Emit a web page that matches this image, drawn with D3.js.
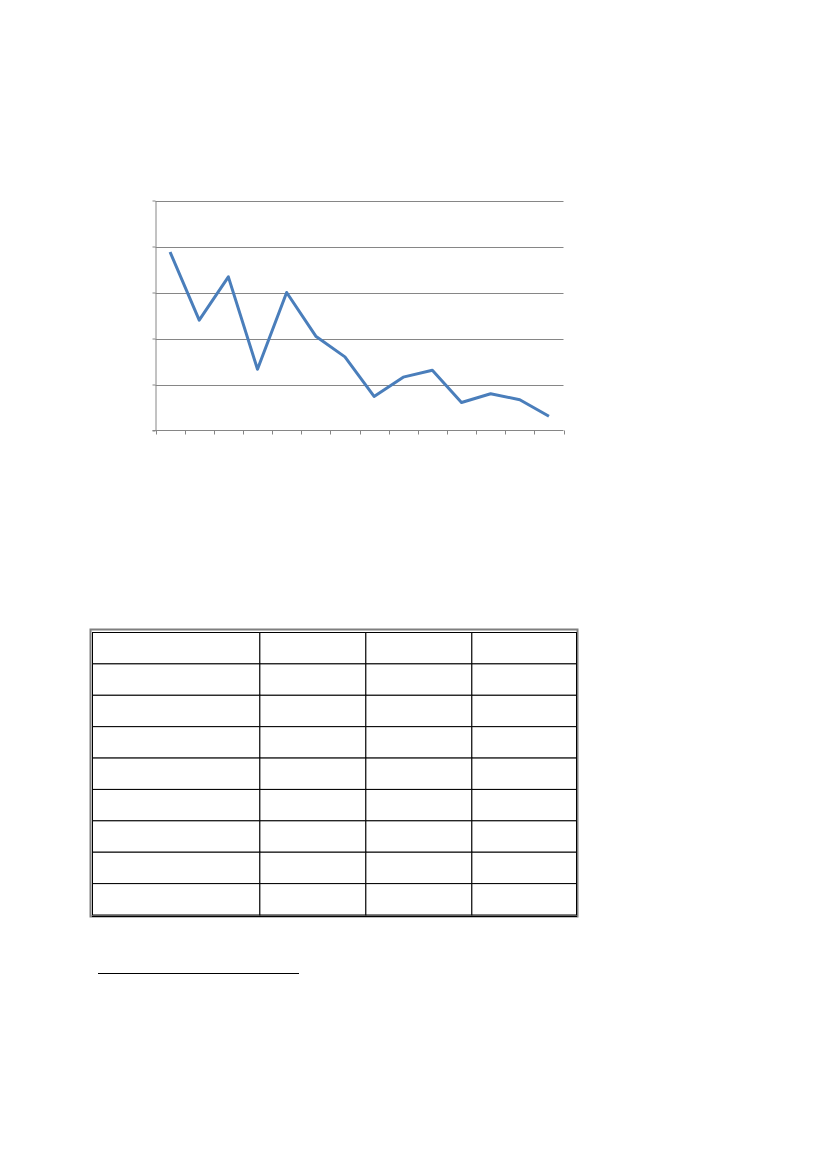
<!DOCTYPE html>
<html>
<head>
<meta charset="utf-8">
<script src="https://cdn.jsdelivr.net/npm/d3@7"></script>
<style>
  body { margin: 0; background: #fff; }
  svg { display: block; }
</style>
</head>
<body>
<script>
// series (no labels are printed in the chart)
const categories = ["1", "2", "3", "4", "5", "6", "7", "8", "9", "10", "11", "12", "13", "14"];
const values = [3.88, 2.40, 3.34, 1.33, 3.00, 2.05, 1.60, 0.74, 1.16, 1.31, 0.61, 0.80, 0.67, 0.31];
const yTicks = [0, 1, 2, 3, 4, 5];

// empty table below the chart: 9 rows x 4 columns
const tableRows = ["", "", "", "", "", "", "", "", ""];
const tableCols = ["", "", "", ""];

const W = 827, H = 1169;

const svg = d3.select("body").append("svg")
    .attr("width", W)
    .attr("height", H);

// ---- line chart ----
const plot = { left: 155.5, right: 563.5, top: 200.5, bottom: 430.5 };
const grey = "#868686";

const x = d3.scaleBand()
    .domain(categories)
    .range([plot.left, plot.right])
    .padding(0);

const y = d3.scaleLinear()
    .domain([0, 5])
    .range([plot.bottom, plot.top]);

const chart = svg.append("g").attr("class", "chart");

// gridlines
chart.append("g")
    .selectAll("line")
    .data(yTicks.filter(d => d > 0))
  .enter().append("line")
    .attr("x1", plot.left)
    .attr("x2", plot.right)
    .attr("y1", d => Math.round(y(d)) + 0.5)
    .attr("y2", d => Math.round(y(d)) + 0.5)
    .attr("stroke", grey)
    .attr("stroke-width", 1);

// y axis with small outside ticks, no labels
chart.append("g")
    .attr("transform", "translate(" + plot.left + ",0)")
    .call(d3.axisLeft(y).tickValues(yTicks).tickSize(3).tickSizeOuter(0).tickFormat(""))
    .call(g => g.selectAll("line, path").attr("stroke", grey));

// x axis: ticks on category boundaries
const boundaries = categories.map(c => x(c)).concat([plot.right]);
const xa = chart.append("g");
xa.append("line")
    .attr("x1", plot.left - 3)
    .attr("x2", plot.right)
    .attr("y1", plot.bottom)
    .attr("y2", plot.bottom)
    .attr("stroke", grey);
xa.selectAll(".xt")
    .data(boundaries)
  .enter().append("line")
    .attr("class", "xt")
    .attr("x1", d => Math.round(d) + 0.5)
    .attr("x2", d => Math.round(d) + 0.5)
    .attr("y1", plot.bottom)
    .attr("y2", plot.bottom + 4)
    .attr("stroke", grey);

// data line
chart.append("path")
    .datum(values)
    .attr("fill", "none")
    .attr("stroke", "#4a7ebb")
    .attr("stroke-width", 3)
    .attr("stroke-linejoin", "round")
    .attr("stroke-linecap", "butt")
    .attr("d", d3.line()
        .x((d, i) => x(categories[i]) + x.bandwidth() / 2)
        .y(d => y(d)));

// ---- table ----
const table = { left: 92, right: 576, top: 632, bottom: 914.5 };
const colEdges = [0, 0.3458, 0.5648, 0.7838, 1];   // share of table width

const tx = d3.scaleLinear()
    .domain([0, 1])
    .range([table.left, table.right]);

const ty = d3.scaleBand()
    .domain(d3.range(tableRows.length))
    .range([table.top, table.bottom]);

const tg = svg.append("g").attr("class", "table");

// outer frame
tg.append("rect")
    .attr("x", 90.5)
    .attr("y", 629.5)
    .attr("width", 487)
    .attr("height", 287)
    .attr("fill", "none")
    .attr("stroke", "#7f7f7f")
    .attr("stroke-width", 2);

// cells
tg.selectAll(".row")
    .data(tableRows)
  .enter().append("g")
    .attr("class", "row")
    .each(function(r, ri) {
      d3.select(this).selectAll("rect")
          .data(tableCols)
        .enter().append("rect")
          .attr("x", (c, ci) => tx(colEdges[ci]) + 0.5)
          .attr("y", ty(ri) + 0.5)
          .attr("width", (c, ci) => tx(colEdges[ci + 1]) - tx(colEdges[ci]))
          .attr("height", ty.bandwidth())
          .attr("fill", "#fff")
          .attr("stroke", "#000")
          .attr("stroke-width", 1);
    });

// double rule at the bottom of the table
tg.append("line")
    .attr("x1", table.left)
    .attr("x2", table.right + 1)
    .attr("y1", table.bottom + 2)
    .attr("y2", table.bottom + 2)
    .attr("stroke", "#000");

// ---- footnote separator ----
svg.append("line")
    .attr("x1", 98)
    .attr("x2", 299)
    .attr("y1", 973.5)
    .attr("y2", 973.5)
    .attr("stroke", "#000")
    .attr("stroke-width", 1);
</script>
</body>
</html>
